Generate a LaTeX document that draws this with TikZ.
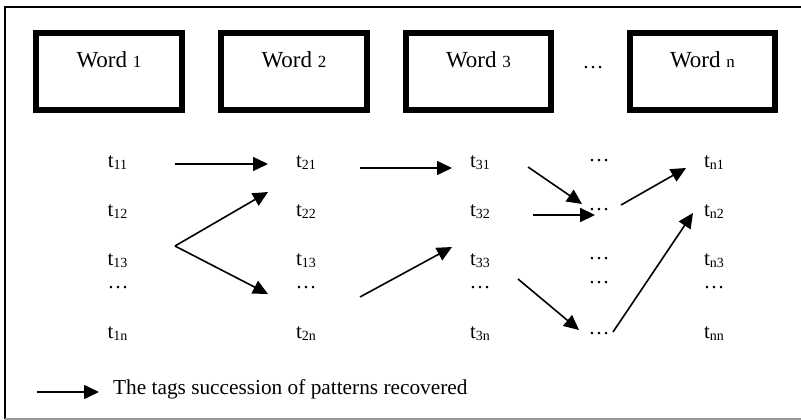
\documentclass[tikz,border=0pt]{standalone}
\usepackage{fontspec}
\setmainfont{Liberation Serif}
\usetikzlibrary{arrows.meta}
\newcommand\tsub[1]{\raisebox{-2pt}{\fontsize{14}{14}\selectfont #1}}
\newcommand\wnum[1]{{\fontsize{17}{17}\selectfont #1}}
\begin{document}
\begin{tikzpicture}[x=1pt,y=-1pt,
  wordbox/.style={draw=black,line width=6pt},
  wordtxt/.style={anchor=base,inner sep=0pt,font=\fontsize{23}{26}\selectfont},
  tl/.style={anchor=base,inner sep=0pt,font=\fontsize{21}{24}\selectfont},
  arr/.style={line width=1.6pt,-{Triangle[length=15pt,width=14pt]}}]
\useasboundingbox (0,0) rectangle (801,420);
% frame
\draw[line width=1.8pt] (801,7) -- (5,7) -- (5,419);
\draw[line width=1.2pt,gray!80] (5,419) -- (801,419);
% word boxes
\draw[wordbox] (36,33) rectangle (182,110);
\draw[wordbox] (221,33) rectangle (367,110);
\draw[wordbox] (406,33) rectangle (551,110);
\draw[wordbox] (630,33) rectangle (775,110);
\node[wordtxt] (w1) at (109,68) {Word \wnum{1}};
\node[wordtxt] (w2) at (294,68) {Word \wnum{2}};
\node[wordtxt] (w3) at (478.5,68) {Word \wnum{3}};
\node[tl] (wdots) at (593,68.5) {…};
\node[wordtxt] (wn) at (702.5,68) {Word \wnum{n}};
% column 1
\node[tl] (t11) at (117.5,167) {t\tsub{11}};
\node[tl] (t12) at (117.5,216) {t\tsub{12}};
\node[tl] (t13) at (117.5,265) {t\tsub{13}};
\node[tl] (d1) at (118,288.5) {…};
\node[tl] (t1n) at (117.5,338) {t\tsub{1n}};
% column 2
\node[tl] (t21) at (306,167) {t\tsub{21}};
\node[tl] (t22) at (306,216) {t\tsub{22}};
\node[tl] (t23) at (306,265) {t\tsub{13}};
\node[tl] (d2) at (306,288.5) {…};
\node[tl] (t2n) at (306,338) {t\tsub{2n}};
% column 3
\node[tl] (t31) at (480,167) {t\tsub{31}};
\node[tl] (t32) at (480,216) {t\tsub{32}};
\node[tl] (t33) at (480,265) {t\tsub{33}};
\node[tl] (d3) at (480,288.5) {…};
\node[tl] (t3n) at (480,338) {t\tsub{3n}};
% column 4
\node[tl] (c41) at (599,161.5) {…};
\node[tl] (c42) at (599,210.5) {…};
\node[tl] (c43) at (599,259.5) {…};
\node[tl] (c44) at (599,283.5) {…};
\node[tl] (c45) at (599,334.5) {…};
% column 5
\node[tl] (tn1) at (714,167) {t\tsub{n1}};
\node[tl] (tn2) at (714,216) {t\tsub{n2}};
\node[tl] (tn3) at (714,265) {t\tsub{n3}};
\node[tl] (dn) at (714,288.5) {…};
\node[tl] (tnn) at (714,338) {t\tsub{nn}};
% arrow ends
\coordinate (a1s) at (175,164);  \coordinate (a1e) at (268,164);
\coordinate (fork) at (175,246);
\coordinate (a2e) at (268,192);  \coordinate (a3e) at (268,294);
\coordinate (a4s) at (360,168);  \coordinate (a4e) at (452,168);
\coordinate (a5s) at (360,297);  \coordinate (a5e) at (452,247);
\coordinate (a6s) at (528,167);  \coordinate (a6e) at (582,204);
\coordinate (a7s) at (533,215);  \coordinate (a7e) at (595,215);
\coordinate (a8s) at (518,279);  \coordinate (a8e) at (579,330);
\coordinate (a9s) at (621,205);  \coordinate (a9e) at (686,168);
\coordinate (a10s) at (613,332); \coordinate (a10e) at (693,213);
\draw[arr] (a1s) -- (a1e);
\draw[arr] (fork) -- (a2e);
\draw[arr] (fork) -- (a3e);
\draw[arr] (a4s) -- (a4e);
\draw[arr] (a5s) -- (a5e);
\draw[arr] (a6s) -- (a6e);
\draw[arr,line width=2.2pt] (a7s) -- (a7e);
\draw[arr] (a8s) -- (a8e);
\draw[arr] (a9s) -- (a9e);
\draw[arr] (a10s) -- (a10e);
% legend
\coordinate (ls) at (37,392); \coordinate (le) at (99,392);
\draw[arr] (ls) -- (le);
\node[tl,anchor=base west,font=\fontsize{21.3}{24}\selectfont] (legend) at (113,394) {The tags succession of patterns recovered};
\end{tikzpicture}
\end{document}
